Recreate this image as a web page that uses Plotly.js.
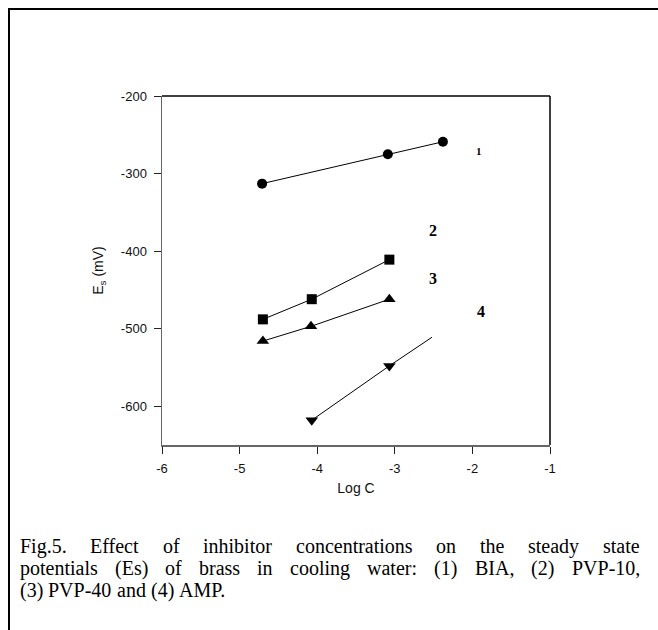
<!DOCTYPE html>
<html>
<head>
<meta charset="utf-8">
<script src="https://cdn.plot.ly/plotly-3.0.1.min.js"></script>
<style>html,body{margin:0;padding:0;background:#fff;}#chart{width:658px;height:630px;}</style>
</head>
<body>
<div id="chart"></div>
<script>
// ---- data ----
const logC1 = [-4.71, -3.09, -2.38];
const es1   = [-313, -275, -259];
const logC2 = [-4.70, -4.07, -3.07];
const es2   = [-488, -462, -411];
const logC3 = [-4.70, -4.08, -3.07];
const es3   = [-516, -497, -462];
const logC4 = [-4.07, -3.07, -2.52];
const es4   = [-618, -548, -511];
const marker4Shown = [true, true, false];

const curveLabels = ["1", "2", "3", "4"];
const labelX = [-1.92, -2.51, -2.51, -1.886];
const labelY = [-271, -374, -435.6, -478];

const xTickVals = [-6, -5, -4, -3, -2, -1];
const xTickText = ["-6", "-5", "-4", "-3", "-2", "-1"];
const yTickVals = [-600, -500, -400, -300, -200];
const yTickText = ["-600", "-500", "-400", "-300", "-200"];

const xTitle = "Log C";
const yTitle = "E<sub>s</sub> (mV)";
const captionLines = [
  "Fig.5. Effect of inhibitor concentrations on the steady state",
  "potentials (Es) of brass in cooling water: (1) BIA, (2) PVP-10,",
  "(3) PVP-40 and (4) AMP."
];
const captionJustify = [true, true, false];

// ---- layout geometry ----
const W = 658, H = 630;
const M = {l: 162, r: 108, t: 96, b: 185};
const PW = W - M.l - M.r, PH = H - M.t - M.b;
const px2x = px => (px - M.l) / PW;
const py2y = py => 1 - (py - M.t) / PH;

const serif = "Liberation Serif, Times New Roman, serif";
const sans = "Liberation Sans, Arial, sans-serif";

const lineStyle = {color: "#000", width: 1};
const noOutline = {width: 0};
const traces = [
  {x: logC1, y: es1, mode: "lines+markers", line: lineStyle,
   marker: {symbol: "circle", size: 10, color: "#000", opacity: 1, line: noOutline}},
  {x: logC2, y: es2, mode: "lines+markers", line: lineStyle,
   marker: {symbol: "square", size: 10, color: "#000", opacity: 1, line: noOutline}},
  {x: logC3, y: es3, mode: "lines+markers", line: lineStyle,
   marker: {symbol: "triangle-up", size: 11, color: "#000", opacity: 1, line: noOutline}},
  {x: logC4, y: es4, mode: "lines+markers", line: lineStyle,
   marker: {symbol: "triangle-down", size: marker4Shown.map(s => s ? 11 : 0), color: "#000", opacity: 1, line: noOutline}}
];

const annotations = curveLabels.map((t, i) => ({
  x: labelX[i], y: labelY[i], xref: "x", yref: "y", text: "<b>" + t + "</b>",
  showarrow: false, font: {family: serif, size: i === 0 ? 11 : 16, color: "#000"}
}));

// caption: one annotation per word, lines 1-2 justified
const capFont = 20;
const capLeft = 20, capRight = 640;
const capY = [546, 568.2, 590.4];
const cv = document.createElement("canvas").getContext("2d");
cv.font = capFont + "px 'Liberation Serif'";
const spaceW = cv.measureText(" ").width;
captionLines.forEach((line, li) => {
  const words = line.split(" ");
  const widths = words.map(w => cv.measureText(w).width);
  const total = widths.reduce((a, b) => a + b, 0);
  const gap = captionJustify[li] ? (capRight - capLeft - total) / (words.length - 1) : spaceW;
  let cx = capLeft;
  words.forEach((w, wi) => {
    annotations.push({x: px2x(cx), y: py2y(capY[li]), xref: "paper", yref: "paper",
      xanchor: "left", yanchor: "middle", text: w, showarrow: false, borderpad: 0, borderwidth: 0,
      font: {family: serif, size: capFont, color: "#000"}});
    cx += widths[wi] + gap;
  });
});

const shapes = [
  // plot frame top and right
  {type: "line", xref: "paper", yref: "paper", x0: 0, x1: 1, y0: 1, y1: 1, line: {color: "#000", width: 1.5}},
  {type: "line", xref: "paper", yref: "paper", x0: 1, x1: 1, y0: 0, y1: 1, line: {color: "#000", width: 1.5}},
  // outer figure border (left and top)
  {type: "line", xref: "paper", yref: "paper", x0: px2x(9), x1: px2x(9), y0: py2y(8), y1: py2y(640), line: {color: "#000", width: 2}},
  {type: "line", xref: "paper", yref: "paper", x0: px2x(8), x1: px2x(670), y0: py2y(9), y1: py2y(9), line: {color: "#000", width: 2}}
];

const axisCommon = {showgrid: false, zeroline: false, showline: true, linecolor: "#666", linewidth: 1.5,
  ticks: "outside", ticklen: 7, tickwidth: 1, tickcolor: "#222",
  tickfont: {family: sans, size: 13, color: "#111"}, ticklabelstandoff: 4, fixedrange: true};

const layout = {
  width: W, height: H, margin: M, showlegend: false,
  paper_bgcolor: "#fff", plot_bgcolor: "#fff",
  xaxis: Object.assign({}, axisCommon, {range: [-6, -1], tickmode: "array", tickvals: xTickVals, ticktext: xTickText,
    title: {text: xTitle, font: {family: sans, size: 14, color: "#111"}, standoff: 8}}),
  yaxis: Object.assign({}, axisCommon, {range: [-650, -200], tickmode: "array", tickvals: yTickVals, ticktext: yTickText,
    title: {text: yTitle, font: {family: sans, size: 14, color: "#111"}, standoff: 14}}),
  annotations: annotations,
  shapes: shapes
};

Plotly.newPlot("chart", traces, layout, {staticPlot: true, displayModeBar: false});
</script>
</body>
</html>
